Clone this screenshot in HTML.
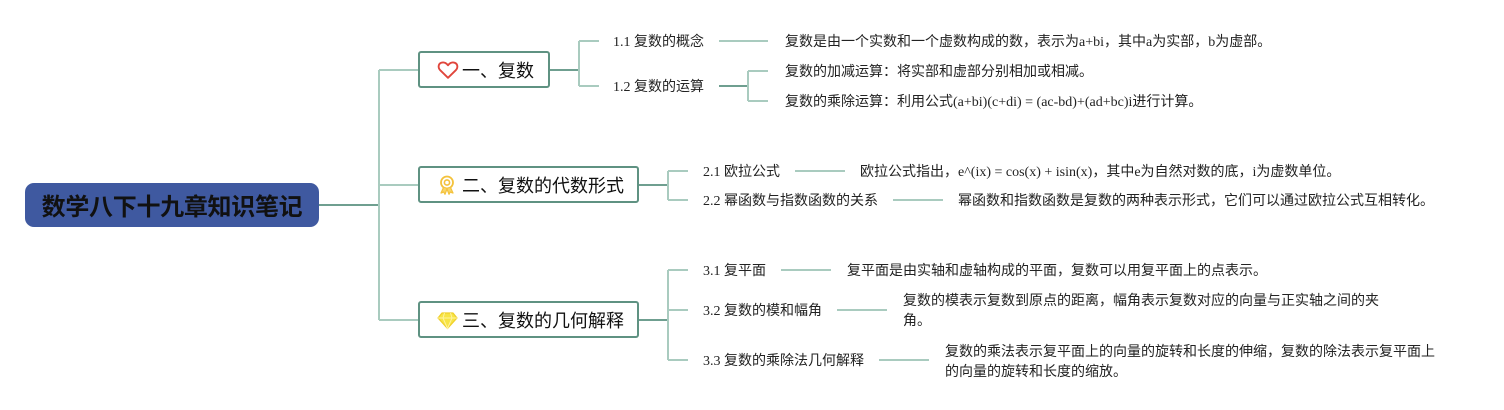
<!DOCTYPE html>
<html>
<head>
<meta charset="utf-8">
<style>
  html,body{margin:0;padding:0;background:#fff;}
  body{width:1504px;height:410px;position:relative;overflow:hidden;
    font-family:"Liberation Serif","Noto Sans CJK SC",serif;color:#222;}
  .t{position:absolute;white-space:nowrap;font-size:14px;line-height:20px;margin-top:2px;}
  .root{position:absolute;left:25px;top:183px;width:294px;height:44px;background:#3f59a0;border-radius:9px;
    font-family:"Liberation Sans","Noto Sans CJK SC",sans-serif;font-weight:bold;font-size:24px;line-height:44px;
    text-align:center;color:#111;letter-spacing:-0.3px;}
  .root span{position:relative;top:3px;}
  .box{position:absolute;left:418px;height:33px;border:2px solid #5f9282;border-radius:3px;background:#fff;box-sizing:content-box;}
  .box .lbl{position:absolute;left:42px;top:2px;line-height:33px;font-size:18px;
    font-family:"Liberation Sans","Noto Sans CJK SC",sans-serif;color:#111;white-space:nowrap;}
  .box svg{position:absolute;left:17px;top:7px;}
  svg.lines{position:absolute;left:0;top:0;}
</style>
</head>
<body>
<svg class="lines" width="1504" height="410" xmlns="http://www.w3.org/2000/svg">
  <g fill="none" stroke-width="2">
    <line x1="319" y1="205" x2="380" y2="205" stroke="#6f9f90"/>
    <line x1="379" y1="70" x2="379" y2="320" stroke="#a9cbbf"/>
    <line x1="379" y1="70" x2="420" y2="70" stroke="#a9cbbf"/>
    <line x1="379" y1="185" x2="420" y2="185" stroke="#a9cbbf"/>
    <line x1="379" y1="320" x2="420" y2="320" stroke="#a9cbbf"/>

    <line x1="548" y1="70" x2="580" y2="70" stroke="#6f9f90"/>
    <line x1="579" y1="41" x2="579" y2="86" stroke="#a9cbbf"/>
    <line x1="579" y1="41" x2="599" y2="41" stroke="#a9cbbf"/>
    <line x1="579" y1="86" x2="599" y2="86" stroke="#a9cbbf"/>
    <line x1="719" y1="41" x2="768" y2="41" stroke="#a9cbbf"/>
    <line x1="719" y1="86" x2="749" y2="86" stroke="#6f9f90"/>
    <line x1="748" y1="71" x2="748" y2="101" stroke="#a9cbbf"/>
    <line x1="748" y1="71" x2="768" y2="71" stroke="#a9cbbf"/>
    <line x1="748" y1="101" x2="768" y2="101" stroke="#a9cbbf"/>

    <line x1="637" y1="185" x2="669" y2="185" stroke="#6f9f90"/>
    <line x1="668" y1="171" x2="668" y2="200" stroke="#a9cbbf"/>
    <line x1="668" y1="171" x2="688" y2="171" stroke="#a9cbbf"/>
    <line x1="668" y1="200" x2="688" y2="200" stroke="#a9cbbf"/>
    <line x1="795" y1="171" x2="845" y2="171" stroke="#a9cbbf"/>
    <line x1="893" y1="200" x2="943" y2="200" stroke="#a9cbbf"/>

    <line x1="637" y1="320" x2="669" y2="320" stroke="#6f9f90"/>
    <line x1="668" y1="270" x2="668" y2="360" stroke="#a9cbbf"/>
    <line x1="668" y1="270" x2="688" y2="270" stroke="#a9cbbf"/>
    <line x1="668" y1="310" x2="688" y2="310" stroke="#a9cbbf"/>
    <line x1="668" y1="360" x2="688" y2="360" stroke="#a9cbbf"/>
    <line x1="781" y1="270" x2="831" y2="270" stroke="#a9cbbf"/>
    <line x1="837" y1="310" x2="887" y2="310" stroke="#a9cbbf"/>
    <line x1="879" y1="360" x2="929" y2="360" stroke="#a9cbbf"/>
  </g>
</svg>

<div class="root"><span>数学八下十九章知识笔记</span></div>

<div class="box" style="top:51px;width:128px;">
  <svg width="22" height="20" viewBox="0 0 22 20">
    <path d="M11 17.8 L3.2 10.2 C0.8 7.8 1.2 4 4.2 2.8 C6.6 1.9 9.1 2.9 11 5.3 C12.9 2.9 15.4 1.9 17.8 2.8 C20.8 4 21.2 7.8 18.8 10.2 Z" fill="none" stroke="#e0463c" stroke-width="1.9" stroke-linejoin="round"/>
  </svg>
  <div class="lbl">一、复数</div>
</div>

<div class="box" style="top:166px;width:217px;">
  <svg width="20" height="20" viewBox="0 0 20 20">
    <circle cx="10" cy="7.5" r="6" fill="none" stroke="#f4c23c" stroke-width="1.8"/>
    <circle cx="10" cy="7.5" r="2.6" fill="none" stroke="#f4c23c" stroke-width="1.6"/>
    <path d="M6.5 12.5 L4 18 L6.8 17 L8 19.3 L10 14" fill="#f9d56a" stroke="#f4c23c" stroke-width="1.2" stroke-linejoin="round"/>
    <path d="M13.5 12.5 L16 18 L13.2 17 L12 19.3 L10 14" fill="#f9d56a" stroke="#f4c23c" stroke-width="1.2" stroke-linejoin="round"/>
  </svg>
  <div class="lbl">二、复数的代数形式</div>
</div>

<div class="box" style="top:301px;width:217px;">
  <svg width="21" height="20" viewBox="0 0 21 20">
    <path d="M5 3 L16 3 L20 8 L10.5 18.5 L1 8 Z" fill="#f7e445" stroke="#f0cf2a" stroke-width="1.2" stroke-linejoin="round"/>
    <path d="M1 8 L20 8 M7.5 3 L6 8 L10.5 18.5 L15 8 L13.5 3" fill="none" stroke="#fff3a0" stroke-width="1"/>
  </svg>
  <div class="lbl">三、复数的几何解释</div>
</div>

<div class="t" style="left:613px;top:31px;">1.1 复数的概念</div>
<div class="t" style="left:613px;top:76px;">1.2 复数的运算</div>
<div class="t" style="left:785px;top:31px;">复数是由一个实数和一个虚数构成的数，表示为a+bi，其中a为实部，b为虚部。</div>
<div class="t" style="left:785px;top:61px;">复数的加减运算：将实部和虚部分别相加或相减。</div>
<div class="t" style="left:785px;top:91px;">复数的乘除运算：利用公式(a+bi)(c+di) = (ac-bd)+(ad+bc)i进行计算。</div>

<div class="t" style="left:703px;top:161px;">2.1 欧拉公式</div>
<div class="t" style="left:703px;top:190px;">2.2 幂函数与指数函数的关系</div>
<div class="t" style="left:860px;top:161px;">欧拉公式指出，e^(ix) = cos(x) + isin(x)，其中e为自然对数的底，i为虚数单位。</div>
<div class="t" style="left:958px;top:190px;">幂函数和指数函数是复数的两种表示形式，它们可以通过欧拉公式互相转化。</div>

<div class="t" style="left:703px;top:260px;">3.1 复平面</div>
<div class="t" style="left:703px;top:300px;">3.2 复数的模和幅角</div>
<div class="t" style="left:703px;top:350px;">3.3 复数的乘除法几何解释</div>
<div class="t" style="left:847px;top:260px;">复平面是由实轴和虚轴构成的平面，复数可以用复平面上的点表示。</div>
<div class="t" style="left:903px;top:290px;">复数的模表示复数到原点的距离，幅角表示复数对应的向量与正实轴之间的夹<br>角。</div>
<div class="t" style="left:945px;top:341px;">复数的乘法表示复平面上的向量的旋转和长度的伸缩，复数的除法表示复平面上<br>的向量的旋转和长度的缩放。</div>
</body>
</html>
